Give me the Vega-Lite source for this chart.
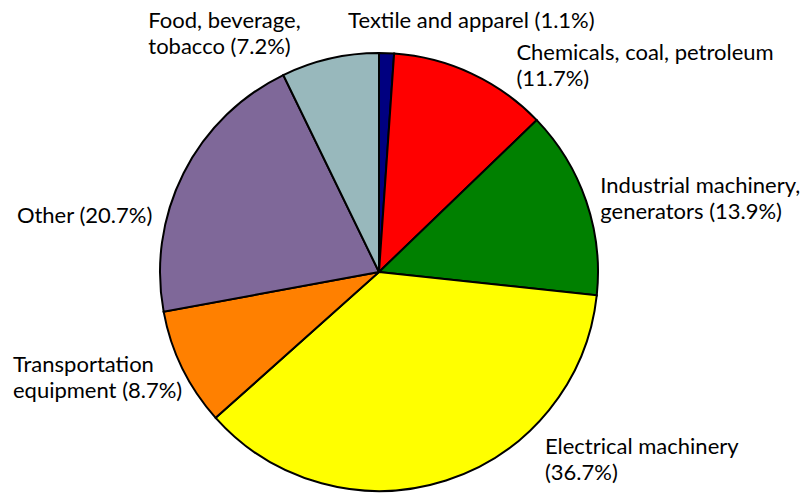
{
  "$schema": "https://vega.github.io/schema/vega-lite/v6.json",
  "autosize": {"type": "none"},
  "width": 438,
  "height": 438,
  "padding": {"left": 160, "top": 53, "right": 206, "bottom": 3},
  "background": "white",
  "config": {"view": {"stroke": null}},
  "data": {
    "values": [
      {"idx": 1, "sector": "Textile and apparel", "share": 1.1, "label": "Textile and apparel (1.1%)"},
      {"idx": 2, "sector": "Chemicals, coal, petroleum", "share": 11.7, "label": "Chemicals, coal, petroleum\n(11.7%)"},
      {"idx": 3, "sector": "Industrial machinery, generators", "share": 13.9, "label": "Industrial machinery,\ngenerators (13.9%)"},
      {"idx": 4, "sector": "Electrical machinery", "share": 36.7, "label": "Electrical machinery\n(36.7%)"},
      {"idx": 5, "sector": "Transportation equipment", "share": 8.7, "label": "Transportation\nequipment (8.7%)"},
      {"idx": 6, "sector": "Other", "share": 20.7, "label": "Other (20.7%)"},
      {"idx": 7, "sector": "Food, beverage, tobacco", "share": 7.2, "label": "Food, beverage,\ntobacco (7.2%)"}
    ]
  },
  "encoding": {
    "theta": {"field": "share", "type": "quantitative", "stack": true},
    "order": {"field": "idx", "type": "quantitative"}
  },
  "layer": [
    {
      "mark": {"type": "arc", "outerRadius": 219, "stroke": "black", "strokeWidth": 2},
      "encoding": {
        "color": {
          "field": "sector",
          "type": "nominal",
          "legend": null,
          "scale": {
            "domain": ["Textile and apparel", "Chemicals, coal, petroleum", "Industrial machinery, generators", "Electrical machinery", "Transportation equipment", "Other", "Food, beverage, tobacco"],
            "range": ["#000080", "#ff0000", "#008000", "#ffff00", "#ff8000", "#7f6899", "#98b8bc"]
          }
        }
      }
    },
    {
      "mark": {"type": "text", "radius": 235, "align": "left", "baseline": "alphabetic", "lineBreak": "\n", "lineHeight": 26, "font": "Lato", "fontSize": 22, "color": "black", "dx": -39, "dy": -9},
      "encoding": {"text": {"condition": {"test": "datum.idx === 1", "field": "label"}, "value": ""}}
    },
    {
      "mark": {"type": "text", "radius": 235, "align": "left", "baseline": "alphabetic", "lineBreak": "\n", "lineHeight": 26, "font": "Lato", "fontSize": 22, "color": "black", "dx": 38, "dy": 1},
      "encoding": {"text": {"condition": {"test": "datum.idx === 2", "field": "label"}, "value": ""}}
    },
    {
      "mark": {"type": "text", "radius": 235, "align": "left", "baseline": "alphabetic", "lineBreak": "\n", "lineHeight": 26, "font": "Lato", "fontSize": 22, "color": "black", "dx": -1, "dy": -3},
      "encoding": {"text": {"condition": {"test": "datum.idx === 3", "field": "label"}, "value": ""}}
    },
    {
      "mark": {"type": "text", "radius": 235, "align": "left", "baseline": "alphabetic", "lineBreak": "\n", "lineHeight": 26, "font": "Lato", "fontSize": 22, "color": "black", "dx": 94, "dy": -42},
      "encoding": {"text": {"condition": {"test": "datum.idx === 4", "field": "label"}, "value": ""}}
    },
    {
      "mark": {"type": "text", "radius": 235, "align": "left", "baseline": "alphabetic", "lineBreak": "\n", "lineHeight": 26, "font": "Lato", "fontSize": 22, "color": "black", "dx": -155, "dy": -3},
      "encoding": {"text": {"condition": {"test": "datum.idx === 5", "field": "label"}, "value": ""}}
    },
    {
      "mark": {"type": "text", "radius": 235, "align": "right", "baseline": "alphabetic", "lineBreak": "\n", "lineHeight": 26, "font": "Lato", "fontSize": 22, "color": "black", "dx": -17, "dy": 57},
      "encoding": {"text": {"condition": {"test": "datum.idx === 6", "field": "label"}, "value": ""}}
    },
    {
      "mark": {"type": "text", "radius": 235, "align": "left", "baseline": "alphabetic", "lineBreak": "\n", "lineHeight": 26, "font": "Lato", "fontSize": 22, "color": "black", "dx": -178, "dy": -15},
      "encoding": {"text": {"condition": {"test": "datum.idx === 7", "field": "label"}, "value": ""}}
    }
  ]
}
